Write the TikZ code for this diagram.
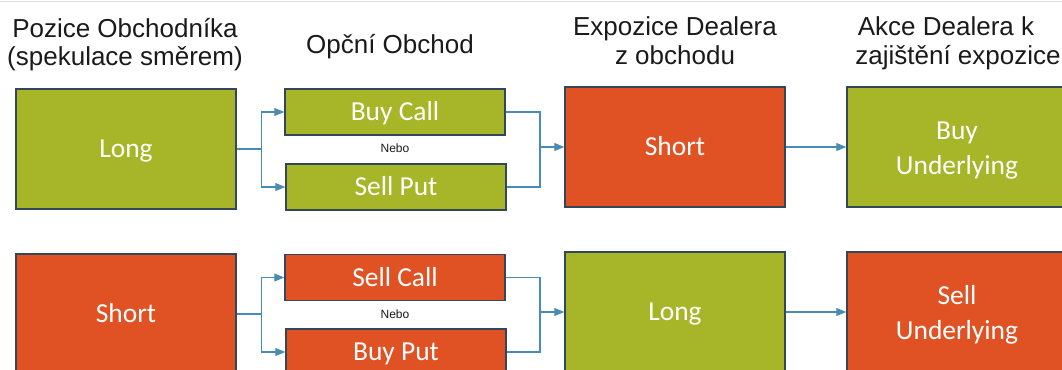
\documentclass[tikz,border=0pt]{standalone}
\usepackage{fontspec}
\setmainfont{Liberation Sans}
\newfontfamily\boxfont{Carlito}
\usetikzlibrary{arrows.meta}
\definecolor{boxgreen}{HTML}{A6B628}
\definecolor{boxorange}{HTML}{E05224}
\definecolor{boxline}{HTML}{33475A}
\definecolor{connblue}{HTML}{4A8BB5}
\definecolor{headtext}{HTML}{1A1A1A}
\begin{document}
\begin{tikzpicture}[x=0.75pt,y=-0.75pt,
  box/.style={draw=boxline, line width=1.1pt, inner sep=0pt,
    minimum width=165pt, text=white,
    font=\boxfont\fontsize{20.6pt}{26.25pt}\selectfont},
  tall/.style={box, minimum height=90pt},
  slim/.style={box, minimum height=34.5pt},
  one/.style={text height=17pt, text depth=4.1pt},
  two/.style={align=center},
  grn/.style={fill=boxgreen},
  org/.style={fill=boxorange},
  head/.style={anchor=base, inner sep=0pt, text=headtext,
    font=\fontsize{19.5pt}{23pt}\selectfont},
  nebo/.style={anchor=base, inner sep=0pt, text=headtext,
    font=\fontsize{9pt}{11pt}\selectfont},
  conn/.style={draw=connblue, line width=0.8pt},
  arr/.style={conn, -{Triangle[length=7.5pt,width=6pt]}}]
\useasboundingbox (0,0) rectangle (1062,370);
\fill[white] (0,0) rectangle (1062,370);
\draw[black!12, line width=0.8pt] (0,1.5) -- (1062,1.5);

% column headings
\node[head] (h1a) at (125,37.5) {Pozice Obchodníka};
\node[head] (h1b) at (125,66) {(spekulace směrem)};
\node[head] (h2)  at (390,54) {Opční Obchod};
\node[head] (h3a) at (675,36) {Expozice Dealera};
\node[head] (h3b) at (675,65) {z obchodu};
\node[head] (h4a) at (946,36) {Akce Dealera k};
\node[head] (h4b) at (958,65) {zajištění expozice};

% upper row: long position
\node[tall,grn,one] (l1) at (126,149) {Long};
\node[slim,grn,one] (bc) at (395,112) {Buy Call};
\node[slim,grn,one] (sp) at (396,187) {Sell Put};
\node[nebo] (n1) at (395,153) {Nebo};
\node[tall,org,one] (ds) at (675,147) {Short};
\node[tall,grn,two] (bu) at (957,147) {\rule{0pt}{18pt}Buy\\Underlying};

% lower row: short position
\node[tall,org,one] (s1) at (126,314) {Short};
\node[slim,org,one] (sc) at (395,277.5) {Sell Call};
\node[slim,org,one] (bp) at (396,352) {Buy Put};
\node[nebo] (n2) at (395,318) {Nebo};
\node[tall,grn,one] (dl) at (675,312) {Long};
\node[tall,org,two] (su) at (957,312) {\rule{0pt}{18pt}Sell\\Underlying};

% junction points
\coordinate (m1) at (540,147);
\coordinate (m2) at (540,312);

% upper connectors
\draw[arr] (l1.east) -- ++(25,0) |- (bc.west);
\draw[arr] (l1.east) -- ++(25,0) |- (sp.west);
\draw[conn] (bc.east) -| (m1);
\draw[conn] (sp.east) -| (m1);
\draw[arr] (m1) -- (ds.west);
\draw[arr] (ds.east) -- (bu.west);

% lower connectors
\draw[arr] (s1.east) -- ++(25,0) |- (sc.west);
\draw[arr] (s1.east) -- ++(25,0) |- (bp.west);
\draw[conn] (sc.east) -| (m2);
\draw[conn] (bp.east) -| (m2);
\draw[arr] (m2) -- (dl.west);
\draw[arr] (dl.east) -- (su.west);
\end{tikzpicture}
\end{document}
